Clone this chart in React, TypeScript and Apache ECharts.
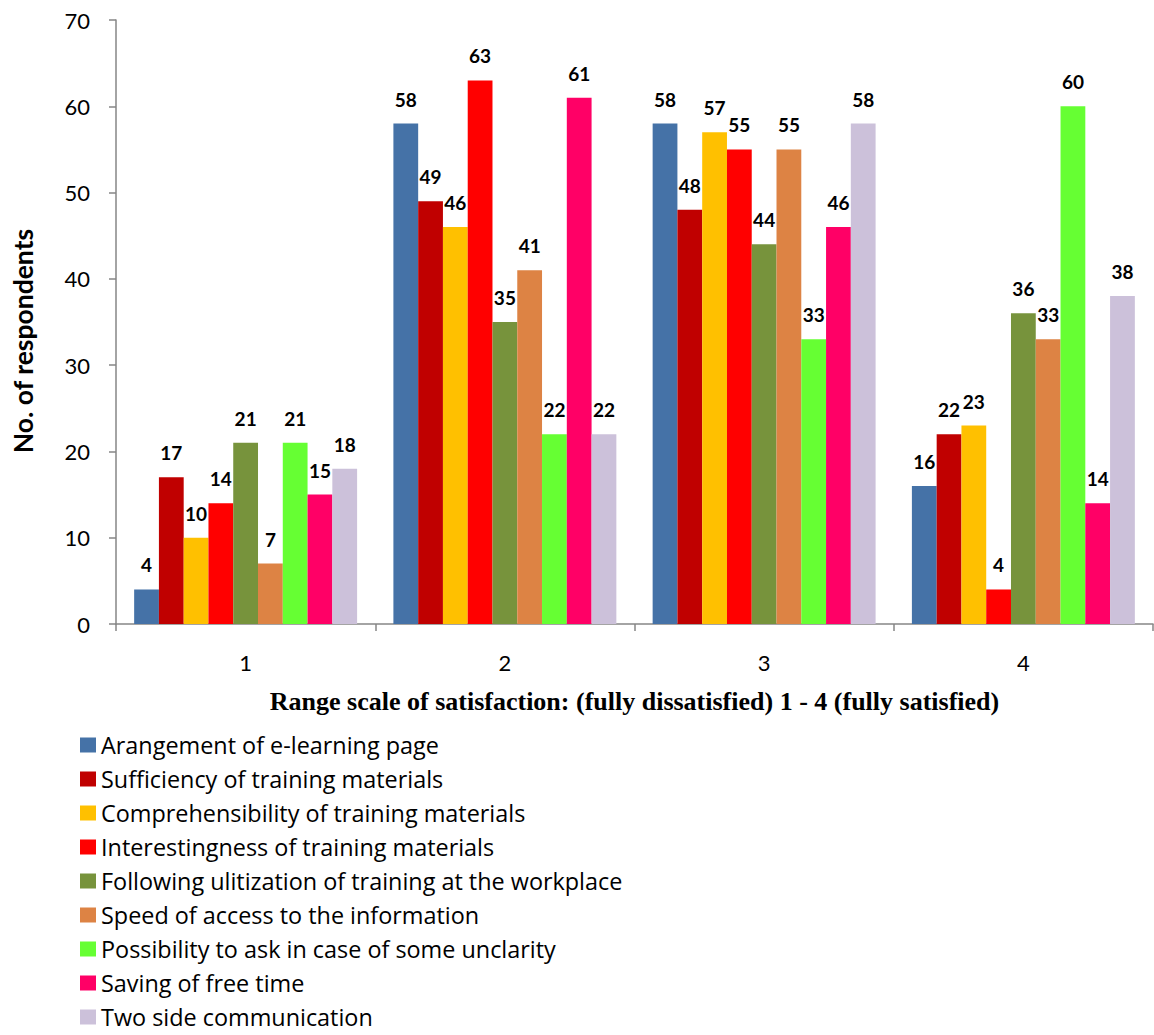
import React, { useEffect, useRef } from "react";
import * as echarts from "echarts";

// Satisfaction scale categories
const categories = ["1", "2", "3", "4"];

// Number of respondents per aspect across the four scale points
const seriesNames = [
  "Arangement of e-learning page",
  "Sufficiency of training materials",
  "Comprehensibility of training materials",
  "Interestingness of training materials",
  "Following ulitization of training at the workplace",
  "Speed of access to the information",
  "Possibility to ask in case of some unclarity",
  "Saving of free time",
  "Two side communication",
];

const arrangement = [4, 58, 58, 16];
const sufficiency = [17, 49, 48, 22];
const comprehensibility = [10, 46, 57, 23];
const interestingness = [14, 63, 55, 4];
const followingUse = [21, 35, 44, 36];
const speedOfAccess = [7, 41, 55, 33];
const possibilityToAsk = [21, 22, 33, 60];
const savingFreeTime = [15, 61, 46, 14];
const twoSideCommunication = [18, 22, 58, 38];

const seriesValues = [
  arrangement,
  sufficiency,
  comprehensibility,
  interestingness,
  followingUse,
  speedOfAccess,
  possibilityToAsk,
  savingFreeTime,
  twoSideCommunication,
];

const colors = [
  "#4572A7",
  "#C00000",
  "#FFC000",
  "#FF0000",
  "#77933C",
  "#DD8344",
  "#66FF33",
  "#FF0066",
  "#CCC1DA",
];

const yTitle = "No. of respondents";
const xTitle = "Range scale of satisfaction: (fully dissatisfied) 1 - 4 (fully satisfied)";

const SANS = "Lato, 'Open Sans', sans-serif";
const LEGEND_FONT = "'Open Sans', Lato, sans-serif";

export default function App() {
  const ref = useRef<HTMLDivElement>(null);

  useEffect(() => {
    document.body.style.margin = "0";
    if (!ref.current) return;
    const chart = echarts.init(ref.current, undefined, { renderer: "svg" });
    chart.setOption({
      animation: false,
      backgroundColor: "#ffffff",
      color: colors,
      grid: { left: 116, right: 1, top: 20, bottom: 411, containLabel: false },
      xAxis: {
        type: "category",
        data: categories,
        axisLine: { lineStyle: { color: "#868686", width: 1.5 } },
        axisTick: { show: true, length: 7, lineStyle: { color: "#868686", width: 1.5 } },
        axisLabel: { color: "#000", fontFamily: SANS, fontSize: 22, margin: 27 },
        name: xTitle,
        nameLocation: "middle",
        nameGap: 64,
        nameTextStyle: {
          fontFamily: "'Liberation Serif', 'Times New Roman', serif",
          fontWeight: "bold",
          fontSize: 26,
          color: "#000",
        },
      },
      yAxis: {
        type: "value",
        min: 0,
        max: 70,
        interval: 10,
        splitLine: { show: false },
        axisLine: { show: true, lineStyle: { color: "#868686", width: 1.5 } },
        axisTick: { show: true, length: 7, lineStyle: { color: "#868686", width: 1.5 } },
        axisLabel: { color: "#000", fontFamily: SANS, fontSize: 22, margin: 26 },
      },
      graphic: [
        {
          type: "text",
          x: 23,
          y: 341,
          rotation: Math.PI / 2,
          style: {
            text: yTitle,
            fontFamily: SANS,
            fontWeight: "bold",
            fontSize: 26.5,
            fill: "#000",
            textAlign: "center",
            textVerticalAlign: "middle",
          },
        },
      ],
      legend: {
        orient: "vertical",
        left: 80,
        top: 733,
        height: 302,
        padding: 0,
        itemWidth: 16,
        itemHeight: 15,
        itemGap: 10,
        icon: "rect",
        textStyle: { fontFamily: LEGEND_FONT, fontSize: 23.4, lineHeight: 24, color: "#000" },
        data: seriesNames,
      },
      series: seriesNames.map((name, i) => ({
        name,
        type: "bar",
        data: seriesValues[i],
        barGap: "0%",
        barCategoryGap: "14%",
        itemStyle: { color: colors[i] },
        label: {
          show: true,
          position: "top",
          distance: 15,
          fontFamily: SANS,
          fontWeight: "bold",
          fontSize: 19,
          color: "#000",
        },
      })),
    });
    return () => chart.dispose();
  }, []);

  return <div ref={ref} style={{ width: 1154, height: 1035 }} />;
}
